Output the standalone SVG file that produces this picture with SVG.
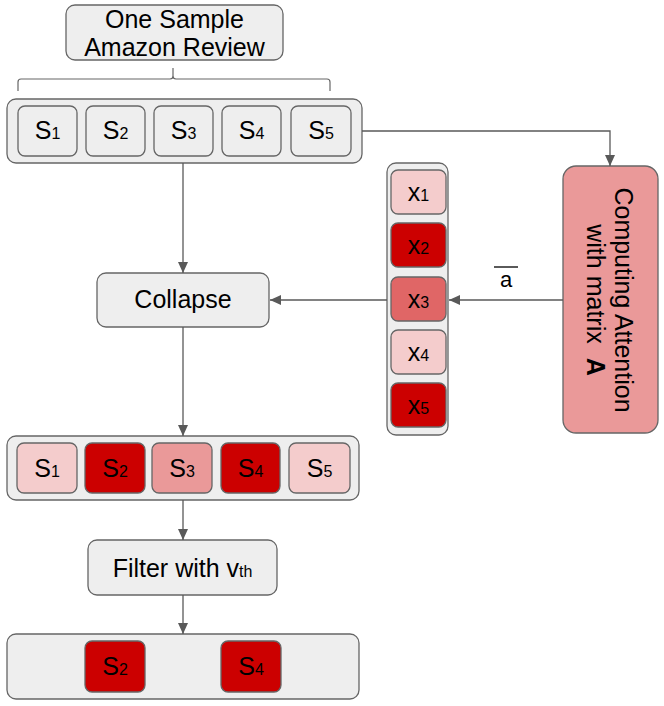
<svg xmlns="http://www.w3.org/2000/svg" width="664" height="706" viewBox="0 0 664 706">
<defs>
<marker id="ah" markerUnits="userSpaceOnUse" markerWidth="12" markerHeight="10" refX="11" refY="5" orient="auto">
<path d="M0,0 L11,5 L0,10 Z" fill="#595959"/>
</marker>
<style>
.box{fill:#eeeeee;stroke:#666666;stroke-width:1.3}
.l3{fill:#f4cccc;stroke:#666666;stroke-width:1.3}
.l2{fill:#ea9999;stroke:#666666;stroke-width:1.3}
.l1{fill:#e06666;stroke:#666666;stroke-width:1.3}
.dk{fill:#cc0000;stroke:#666666;stroke-width:1.3}
.t{font-family:"Liberation Sans",Arial,sans-serif;font-size:25px;fill:#000;text-anchor:middle}
.sub{font-size:16px}
.conn{fill:none;stroke:#595959;stroke-width:1.3}
</style>
</defs>
<rect width="664" height="706" fill="#ffffff"/>

<g id="title">
<rect class="box" x="66" y="5" width="217" height="55" rx="9"/>
<text class="t" x="174.5" y="28">One Sample</text>
<text class="t" x="174.5" y="56">Amazon Review</text>
</g>

<g id="brace">
<path d="M18,91 V82 Q18,79 21,79 H170 Q173,79 173,76 V68 M173,76 Q173,79 176,79 H327 Q330,79 330,82 V91" fill="none" stroke="#666666" stroke-width="1.2"/>
</g>

<g id="row1">
<rect class="box" x="7" y="99" width="355" height="64" rx="9"/>
<rect class="box" x="18" y="106" width="59" height="50" rx="7"/>
<rect class="box" x="86" y="106" width="59" height="50" rx="7"/>
<rect class="box" x="154" y="106" width="59" height="50" rx="7"/>
<rect class="box" x="222" y="106" width="59" height="50" rx="7"/>
<rect class="box" x="291" y="106" width="60" height="50" rx="7"/>
<text class="t" x="47.5" y="139">S<tspan class="sub">1</tspan></text>
<text class="t" x="115.5" y="139">S<tspan class="sub">2</tspan></text>
<text class="t" x="183.5" y="139">S<tspan class="sub">3</tspan></text>
<text class="t" x="251.5" y="139">S<tspan class="sub">4</tspan></text>
<text class="t" x="321" y="139">S<tspan class="sub">5</tspan></text>
</g>

<g id="attention">
<rect class="l2" x="563" y="166" width="95" height="267" rx="13"/>
<g transform="translate(610,300) rotate(90)">
<text class="t" x="0" y="-5">Computing Attention</text>
<text class="t" x="0" y="23">with matrix <tspan dx="7" font-weight="bold">A</tspan></text>
</g>
</g>

<g id="xcol">
<rect class="box" x="387" y="163" width="61" height="272" rx="9"/>
<rect class="l3" x="391" y="170" width="55" height="44" rx="7"/>
<rect class="dk" x="391" y="223" width="55" height="44" rx="7"/>
<rect class="l1" x="391" y="277" width="55" height="44" rx="7"/>
<rect class="l3" x="391" y="330" width="55" height="44" rx="7"/>
<rect class="dk" x="391" y="383" width="55" height="44" rx="7"/>
<text class="t" x="418.5" y="201">x<tspan class="sub">1</tspan></text>
<text class="t" x="418.5" y="254">x<tspan class="sub">2</tspan></text>
<text class="t" x="418.5" y="308">x<tspan class="sub">3</tspan></text>
<text class="t" x="418.5" y="361">x<tspan class="sub">4</tspan></text>
<text class="t" x="418.5" y="414">x<tspan class="sub">5</tspan></text>
</g>

<g id="collapse">
<rect class="box" x="97" y="273" width="172" height="54" rx="9"/>
<text class="t" x="183" y="308">Collapse</text>
</g>

<g id="row2">
<rect class="box" x="7" y="436" width="352" height="64" rx="9"/>
<rect class="l3" x="17" y="443" width="60" height="50" rx="7"/>
<rect class="dk" x="85" y="443" width="60" height="50" rx="7"/>
<rect class="l2" x="152" y="443" width="60" height="50" rx="7"/>
<rect class="dk" x="221" y="443" width="59" height="50" rx="7"/>
<rect class="l3" x="289" y="443" width="61" height="50" rx="7"/>
<text class="t" x="47" y="477">S<tspan class="sub">1</tspan></text>
<text class="t" x="115" y="477">S<tspan class="sub">2</tspan></text>
<text class="t" x="182" y="477">S<tspan class="sub">3</tspan></text>
<text class="t" x="250.5" y="477">S<tspan class="sub">4</tspan></text>
<text class="t" x="319.5" y="477">S<tspan class="sub">5</tspan></text>
</g>

<g id="filter">
<rect class="box" x="88" y="540" width="189" height="55" rx="9"/>
<text class="t" x="182.5" y="577">Filter with v<tspan class="sub">th</tspan></text>
</g>

<g id="row3">
<rect class="box" x="7" y="634" width="352" height="65" rx="9"/>
<rect class="dk" x="85" y="641" width="60" height="51" rx="7"/>
<rect class="dk" x="221" y="641" width="60" height="51" rx="7"/>
<text class="t" x="115" y="675">S<tspan class="sub">2</tspan></text>
<text class="t" x="251" y="675">S<tspan class="sub">4</tspan></text>
</g>

<g id="connectors">
<path class="conn" d="M362,131 H610 V166" marker-end="url(#ah)"/>
<path class="conn" d="M563,300 H449" marker-end="url(#ah)"/>
<path class="conn" d="M387,300 H270" marker-end="url(#ah)"/>
<path class="conn" d="M183,163 V273" marker-end="url(#ah)"/>
<path class="conn" d="M183,327 V436" marker-end="url(#ah)"/>
<path class="conn" d="M183,500 V540" marker-end="url(#ah)"/>
<path class="conn" d="M183,595 V634" marker-end="url(#ah)"/>
<text x="506" y="287" font-family="Liberation Sans,Arial,sans-serif" font-size="22" text-anchor="middle">a</text>
<line x1="494" y1="267" x2="518" y2="267" stroke="#000" stroke-width="1.3"/>
</g>
</svg>
